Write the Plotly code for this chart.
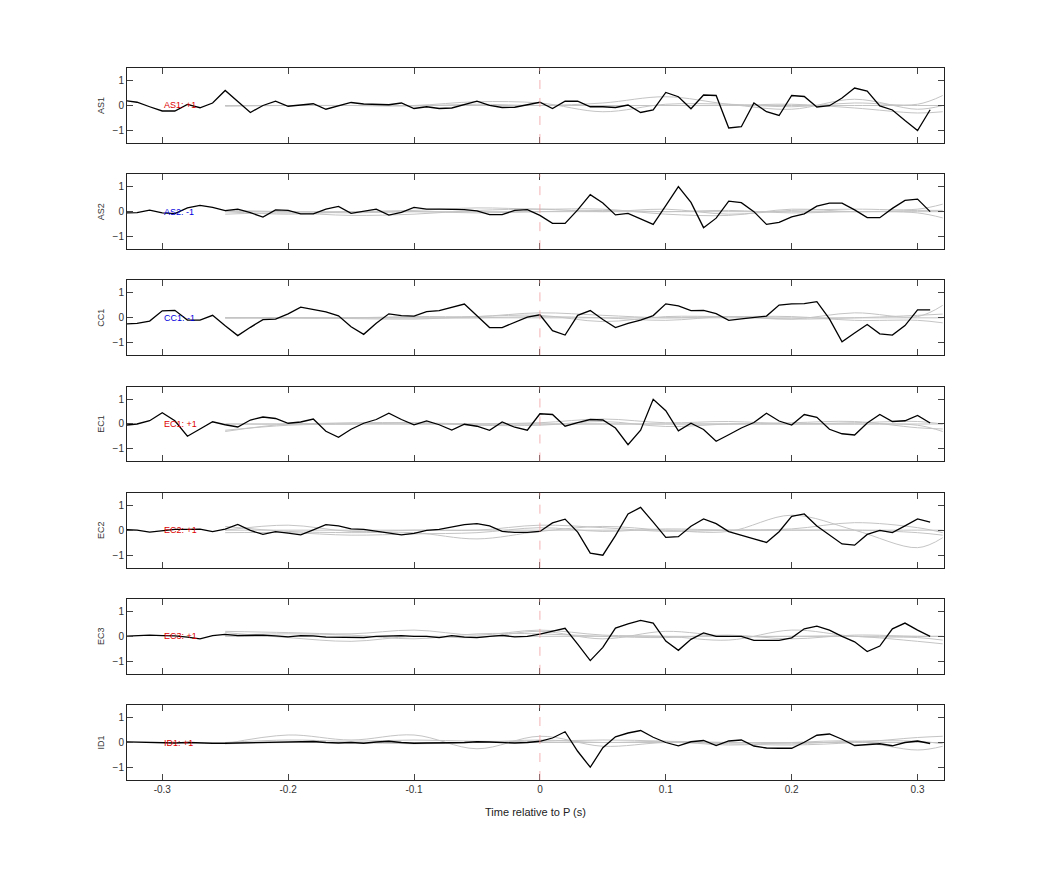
import plotly.graph_objects as go
from plotly.subplots import make_subplots

t_start, t_step, n_pts = -0.33, 0.01, 65
times = [round(t_start + i * t_step, 2) for i in range(n_pts)]

stations = ["AS1", "AS2", "CC1", "EC1", "EC2", "EC3", "ID1"]
polarity = ["+1", "-1", "-1", "+1", "+1", "+1", "+1"]

AS1 = [0.2, 0.13, -0.05, -0.22, -0.22, 0.04, -0.09, 0.1, 0.6, 0.15, -0.28, 0.0, 0.17, -0.03, 0.02, 0.07, -0.15,
       -0.02, 0.12, 0.06, 0.03, 0.03, 0.1, -0.12, -0.05, -0.12, -0.1, 0.02, 0.17, 0.0, -0.08, -0.07, 0.03,
       0.13, -0.12, 0.17, 0.17, -0.05, -0.05, -0.08, 0.02, -0.28, -0.18, 0.52, 0.35, -0.13, 0.42, 0.4, -0.9,
       -0.85, 0.1, -0.25, -0.4, 0.4, 0.36, -0.06, -0.01, 0.3, 0.7, 0.58, -0.02, -0.18, -0.6, -1.0, -0.17]
AS2 = [-0.05, -0.04, 0.06, -0.05, -0.08, 0.15, 0.25, 0.17, 0.04, 0.1, -0.04, -0.22, 0.07, 0.05, -0.09, -0.09, 0.1,
       0.21, -0.07, 0.01, 0.1, -0.14, -0.03, 0.17, 0.1, 0.1, 0.1, 0.08, 0.03, -0.12, -0.12, 0.05, 0.08,
       -0.15, -0.47, -0.47, 0.07, 0.68, 0.35, -0.13, -0.07, -0.29, -0.51, 0.24, 1.0, 0.37, -0.64, -0.26, 0.42,
       0.36, 0.0, -0.51, -0.43, -0.21, -0.09, 0.22, 0.34, 0.34, 0.07, -0.24, -0.24, 0.13, 0.45, 0.5, 0.0]
CC1 = [-0.25, -0.22, -0.13, 0.28, 0.3, -0.09, -0.09, 0.1, -0.32, -0.71, -0.38, -0.07, -0.05, 0.16, 0.43, 0.34, 0.24,
       0.08, -0.36, -0.66, -0.22, 0.16, 0.09, 0.07, 0.25, 0.29, 0.41, 0.55, 0.08, -0.39, -0.39, -0.17, 0.03,
       0.12, -0.51, -0.69, 0.1, 0.29, -0.07, -0.39, -0.22, -0.09, 0.09, 0.56, 0.48, 0.29, 0.3, 0.17, -0.1,
       -0.04, 0.0, 0.07, 0.51, 0.56, 0.57, 0.65, -0.04, -0.96, -0.61, -0.27, -0.64, -0.69, -0.31, 0.32, 0.32]
EC1 = [-0.05, 0.0, 0.13, 0.45, 0.13, -0.49, -0.2, 0.09, -0.03, -0.12, 0.16, 0.28, 0.22, 0.03, 0.08, 0.2, -0.29,
       -0.53, -0.21, 0.03, 0.18, 0.43, 0.18, -0.03, 0.12, -0.03, -0.24, -0.01, -0.09, -0.25, 0.08, -0.13, -0.25,
       0.41, 0.38, -0.09, 0.05, 0.18, 0.16, -0.16, -0.83, -0.25, 0.99, 0.53, -0.27, 0.03, -0.22, -0.69, -0.43,
       -0.16, 0.06, 0.43, 0.12, -0.04, 0.38, 0.27, -0.21, -0.39, -0.44, 0.04, 0.38, 0.1, 0.13, 0.34, 0.04]
EC2 = [0.02, 0.0, -0.08, -0.01, 0.03, 0.03, 0.04, -0.06, 0.04, 0.23, -0.01, -0.17, -0.06, -0.12, -0.19, 0.01, 0.22,
       0.17, 0.05, 0.03, -0.04, -0.12, -0.19, -0.13, -0.01, 0.03, 0.13, 0.22, 0.26, 0.17, -0.05, -0.09, -0.09,
       -0.05, 0.29, 0.44, -0.08, -0.92, -1.0, -0.22, 0.65, 0.91, 0.32, -0.29, -0.26, 0.16, 0.45, 0.26, -0.06,
       -0.19, -0.35, -0.49, -0.06, 0.55, 0.65, 0.17, -0.19, -0.55, -0.6, -0.17, -0.01, -0.1, 0.17, 0.45, 0.32]
EC3 = [0.0, 0.02, 0.05, 0.03, 0.02, -0.03, -0.1, 0.03, 0.08, 0.03, 0.05, 0.05, 0.02, -0.02, 0.03, 0.02, -0.03,
       -0.03, -0.02, -0.05, 0.0, 0.03, 0.03, 0.0, 0.0, -0.05, 0.03, -0.03, -0.05, 0.0, 0.04, -0.02, 0.0,
       0.09, 0.2, 0.32, -0.31, -0.97, -0.44, 0.33, 0.5, 0.64, 0.53, -0.19, -0.56, -0.12, 0.14, 0.0, 0.0,
       0.0, -0.16, -0.17, -0.16, -0.06, 0.3, 0.41, 0.25, 0.0, -0.22, -0.61, -0.39, 0.3, 0.53, 0.25, 0.0]
ID1 = [0.03, 0.02, -0.02, -0.02, -0.02, 0.0, -0.03, -0.03, -0.03, -0.02, -0.01, 0.0, 0.0, 0.0, 0.02, 0.04, 0.0,
       -0.02, 0.0, -0.03, 0.02, 0.05, 0.0, -0.03, -0.02, 0.0, -0.01, 0.0, 0.03, 0.02, 0.0, -0.02, 0.0,
       0.05, 0.18, 0.43, -0.35, -0.99, -0.21, 0.23, 0.38, 0.48, 0.21, 0.0, -0.13, 0.03, 0.08, -0.12, 0.06,
       0.1, -0.14, -0.22, -0.23, -0.23, 0.01, 0.29, 0.34, 0.13, -0.12, -0.09, -0.05, -0.13, 0.0, 0.06, -0.04]
traces = [AS1, AS2, CC1, EC1, EC2, EC3, ID1]

# Synthetic comparison traces (grey), sampled at knots
g_times = [-0.25, -0.20, -0.15, -0.10, -0.05, 0.0, 0.05, 0.10, 0.15, 0.20, 0.25, 0.30, 0.32]
grey = {
    "AS1": [[0.0, 0.0, 0.0, 0.0, 0.15, 0.1, -0.25, 0.05, 0.05, -0.05, 0.1, 0.05, 0.4],
            [-0.03, 0.0, 0.0, -0.02, 0.05, 0.0, 0.1, 0.35, 0.05, -0.15, 0.25, -0.15, 0.0],
            [0.0, 0.0, 0.0, 0.0, 0.0, 0.0, 0.0, 0.0, 0.0, 0.0, 0.0, 0.0, 0.0],
            [0.0, 0.0, 0.0, 0.0, 0.0, 0.0, 0.0, 0.0, 0.0, 0.05, -0.1, -0.3, -0.25]],
    "AS2": [[-0.1, -0.05, -0.15, -0.1, 0.05, 0.1, 0.0, 0.1, -0.1, 0.05, 0.1, 0.1, 0.3],
            [0.0, -0.1, 0.0, 0.05, 0.15, 0.1, 0.1, -0.1, -0.15, 0.1, 0.0, 0.05, 0.05],
            [0.0, 0.0, 0.0, 0.0, 0.0, 0.0, 0.0, 0.0, 0.0, 0.0, 0.0, 0.0, 0.0],
            [0.05, 0.0, -0.05, 0.0, -0.05, 0.0, 0.05, 0.0, 0.05, -0.05, 0.0, -0.05, -0.25]],
    "CC1": [[0.0, 0.0, 0.0, 0.05, 0.05, 0.2, 0.1, 0.0, 0.05, -0.05, 0.2, 0.05, 0.5],
            [0.0, 0.0, -0.03, -0.05, 0.05, 0.1, -0.15, 0.05, 0.05, 0.05, -0.1, -0.1, -0.2],
            [0.0, 0.0, 0.0, 0.0, 0.0, 0.0, 0.0, 0.0, 0.0, 0.0, 0.0, 0.0, 0.0],
            [0.0, 0.0, 0.0, 0.0, 0.0, 0.05, 0.0, -0.1, 0.05, -0.05, 0.0, 0.1, 0.15]],
    "EC1": [[-0.25, -0.05, 0.0, 0.0, 0.0, 0.05, 0.2, 0.05, 0.1, 0.0, 0.0, -0.05, -0.3],
            [-0.3, 0.0, 0.0, 0.05, -0.05, -0.05, 0.1, -0.1, 0.0, 0.05, 0.1, -0.15, -0.2],
            [0.0, 0.0, 0.0, 0.0, 0.0, 0.0, 0.0, 0.0, 0.0, 0.0, 0.0, 0.0, 0.0],
            [0.0, 0.0, 0.05, 0.05, 0.0, 0.0, 0.0, 0.0, 0.0, 0.0, 0.05, 0.1, 0.0]],
    "EC2": [[0.15, -0.05, -0.1, -0.1, -0.35, -0.05, 0.15, 0.0, -0.05, 0.6, 0.0, -0.7, -0.3],
            [0.0, 0.2, -0.05, 0.0, 0.0, 0.2, 0.1, -0.05, 0.0, 0.05, 0.3, 0.1, -0.1],
            [0.0, 0.0, 0.0, 0.0, 0.0, 0.0, 0.0, 0.0, 0.0, 0.0, 0.0, 0.0, 0.0],
            [-0.1, -0.1, -0.2, -0.15, -0.1, 0.1, -0.05, 0.05, 0.0, 0.0, 0.0, -0.1, -0.2]],
    "EC3": [[0.2, 0.15, 0.1, 0.25, 0.05, 0.25, 0.05, 0.0, -0.15, 0.25, 0.0, -0.05, -0.15],
            [0.15, -0.05, -0.2, 0.0, -0.05, 0.2, -0.1, 0.2, 0.0, 0.0, 0.0, -0.2, -0.3],
            [0.0, 0.0, 0.0, 0.0, 0.0, 0.0, 0.0, 0.0, 0.0, 0.0, 0.0, 0.0, 0.0],
            [0.05, 0.1, 0.05, -0.1, 0.1, 0.1, 0.0, -0.05, 0.05, -0.1, 0.05, 0.0, 0.0]],
    "ID1": [[-0.05, 0.3, 0.1, 0.3, -0.25, 0.25, -0.15, 0.0, -0.05, -0.1, 0.0, 0.2, 0.25],
            [0.0, 0.1, 0.05, 0.1, 0.05, 0.05, 0.1, 0.05, -0.1, 0.0, 0.05, -0.3, -0.15],
            [0.0, 0.0, 0.0, 0.0, 0.0, 0.0, 0.0, 0.0, 0.0, 0.0, 0.0, 0.0, 0.0],
            [-0.05, 0.0, 0.0, -0.05, 0.0, 0.1, 0.0, 0.05, 0.0, -0.05, 0.05, 0.05, -0.05]],
}

x_ticks = [-0.3, -0.2, -0.1, 0, 0.1, 0.2, 0.3]
x_tick_text = ["-0.3", "-0.2", "-0.1", "0", "0.1", "0.2", "0.3"]
y_ticks = [-1, 0, 1]

nrows = len(stations)
fig = make_subplots(rows=nrows, cols=1, vertical_spacing=0.0438, shared_xaxes=False)

for i, st in enumerate(stations):
    r = i + 1
    for g in grey[st]:
        fig.add_trace(go.Scatter(x=g_times, y=g, mode="lines", line=dict(color="#c4c4c4", width=1, shape="spline"),
                                 showlegend=False, hoverinfo="skip"), row=r, col=1)
    fig.add_trace(go.Scatter(x=times, y=traces[i], mode="lines", line=dict(color="black", width=1.3),
                             showlegend=False), row=r, col=1)
    xref = "x" if r == 1 else f"x{r}"
    yref = "y" if r == 1 else f"y{r}"
    fig.add_shape(type="line", x0=0, x1=0, y0=-1.5, y1=1.5, xref=xref, yref=yref,
                  line=dict(color="#f0a0a0", width=0.8, dash="dash"))
    fig.add_annotation(x=-0.3, y=0, xref=xref, yref=yref, text=f"{st}: {polarity[i]}", showarrow=False,
                       xanchor="left", font=dict(size=9, color="#dd0000" if polarity[i] == "+1" else "#0000dd"))
    fig.update_xaxes(range=[-0.328, 0.321], tickvals=x_ticks, ticktext=x_tick_text, ticks="inside", ticklen=6,
                     showticklabels=(r == nrows), showline=True, linecolor="#222", linewidth=1, mirror="ticks",
                     showgrid=False, zeroline=False, tickfont=dict(size=10, color="#333"), row=r, col=1)
    fig.update_yaxes(range=[-1.5, 1.5], tickvals=y_ticks, ticks="inside", ticklen=6, showline=True,
                     linecolor="#222", linewidth=1, mirror="ticks", showgrid=False, zeroline=False,
                     title=dict(text=st, font=dict(size=9, color="#333"), standoff=6),
                     tickfont=dict(size=10, color="#333"), row=r, col=1)

fig.update_xaxes(title=dict(text="Time relative to P (s)", font=dict(size=11, color="#222"), standoff=14),
                 row=nrows, col=1)
fig.update_layout(width=1042, height=875, margin=dict(l=119, r=106, t=60, b=103),
                  plot_bgcolor="white", paper_bgcolor="white",
                  font=dict(family="Liberation Sans, Arial, sans-serif"))
fig.write_html("out.html")
